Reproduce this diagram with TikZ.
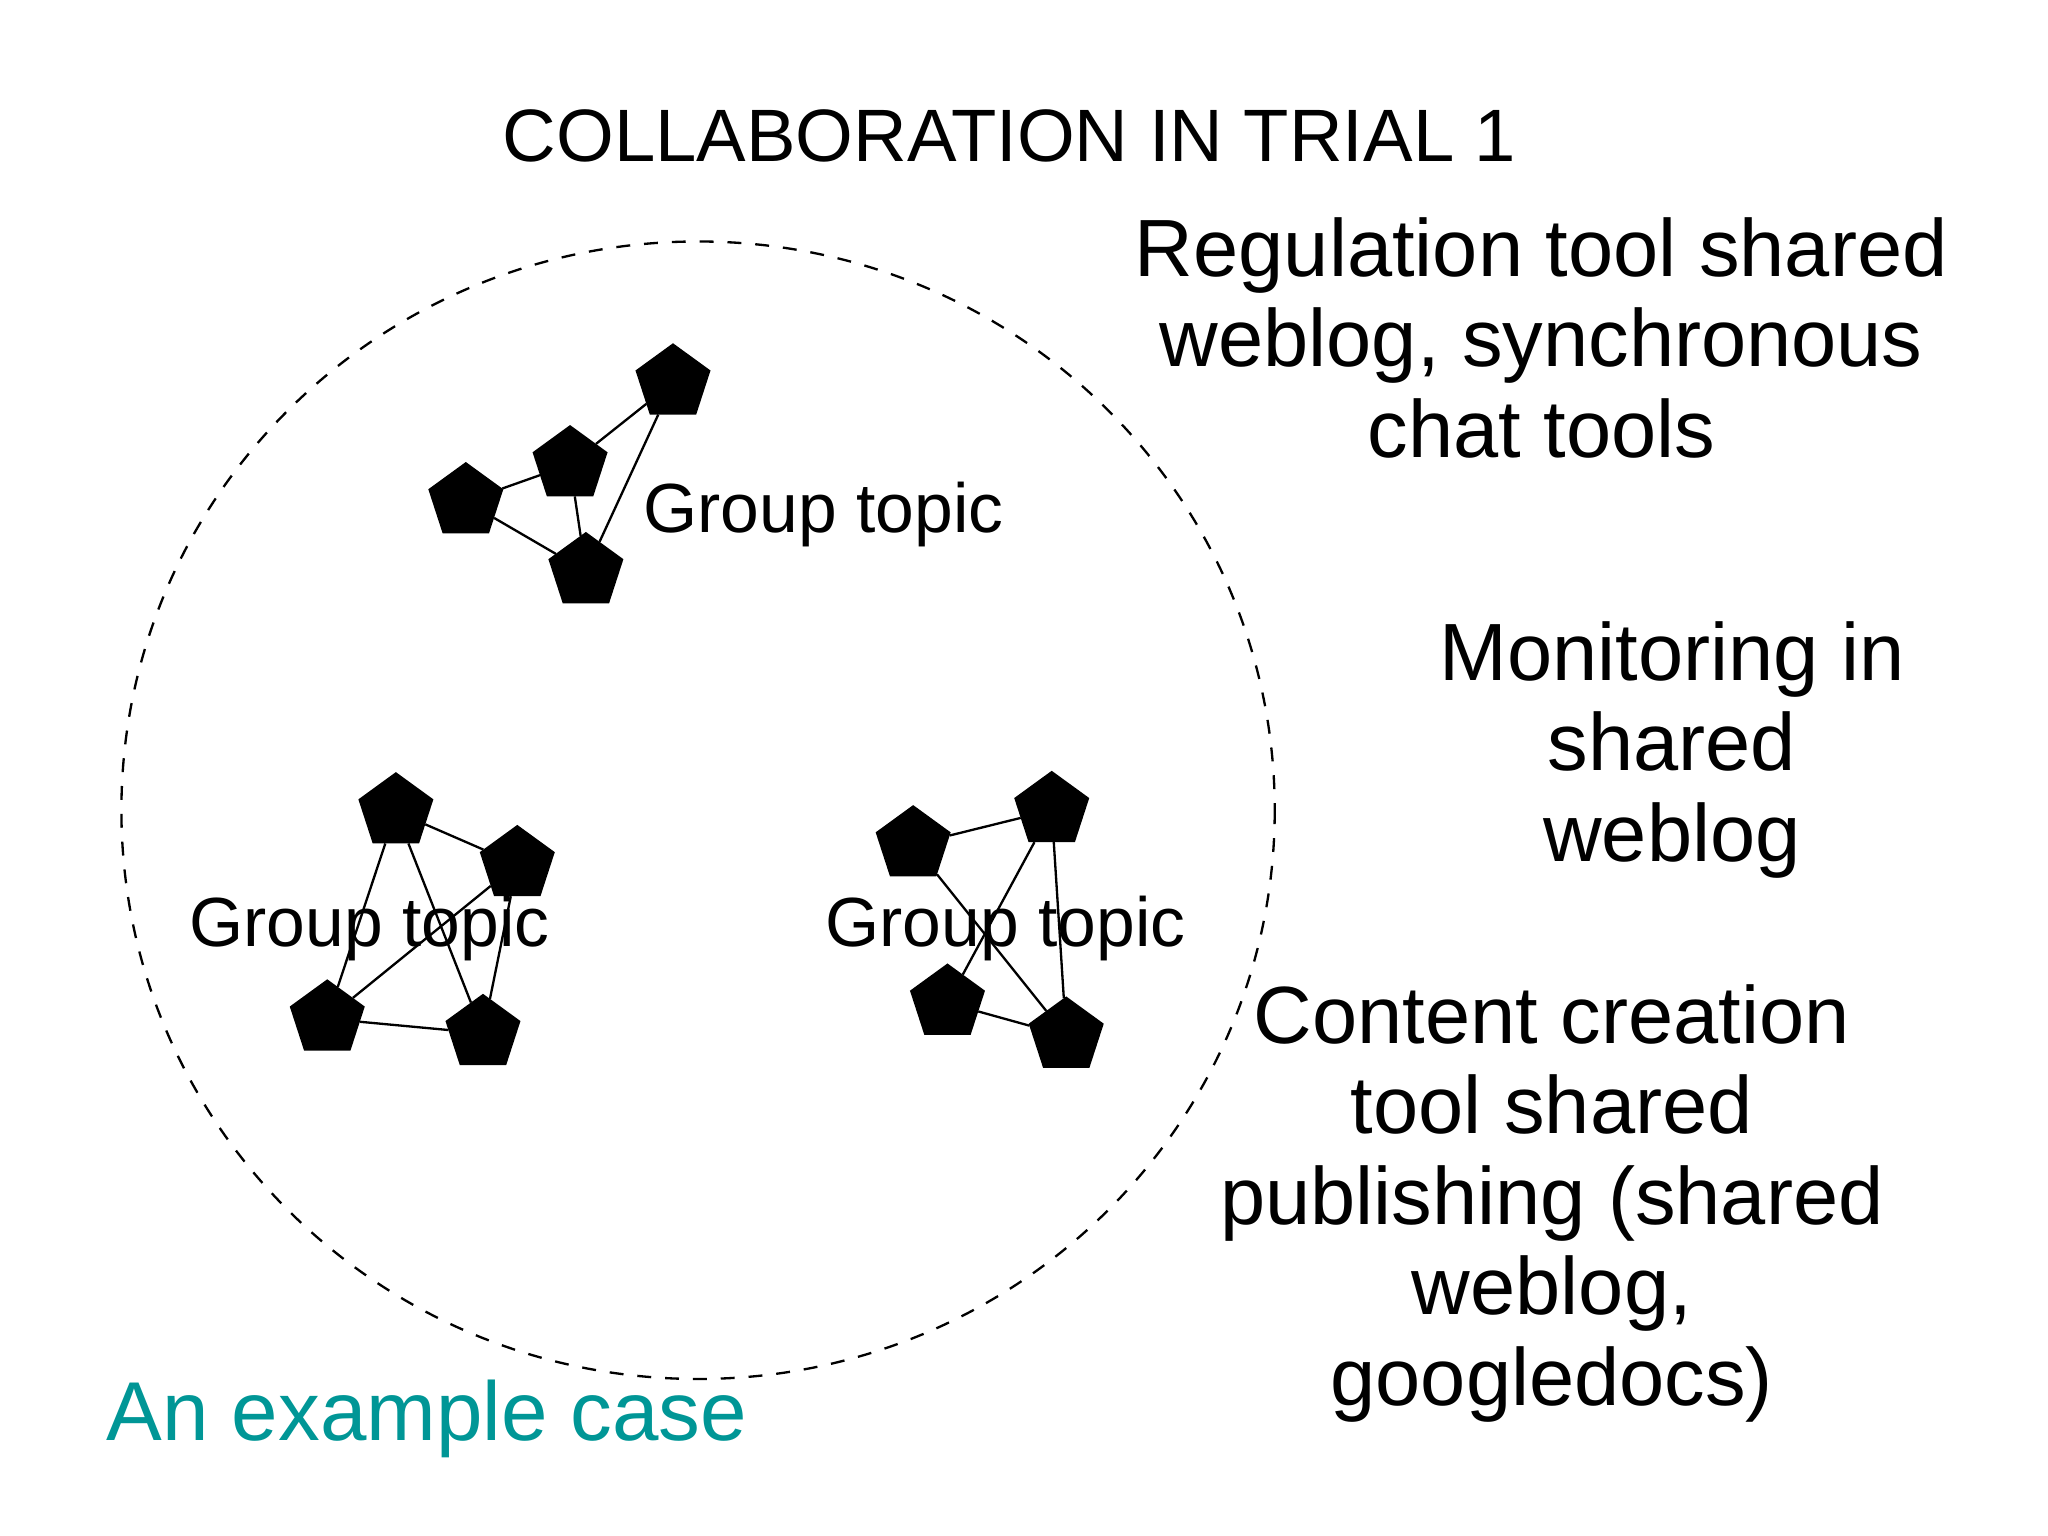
\documentclass[tikz,border=0pt]{standalone}
\usepackage{fontspec}
\setmainfont{Liberation Sans}
\usetikzlibrary{shapes.geometric}
\definecolor{teal1}{RGB}{0,150,150}
\begin{document}
\begin{tikzpicture}[x=0.01cm,y=-0.01cm,
  p/.style={regular polygon,regular polygon sides=5,fill=black,draw=black,minimum size=0.58cm,inner sep=0pt},
  e/.style={draw=black,line width=0.5pt},
  gt/.style={font=\fontsize{15}{18}\selectfont,inner sep=0pt},
  rt/.style={font=\fontsize{17.5}{19.5}\selectfont,align=center,inner sep=0pt}]
\useasboundingbox (0,0) rectangle (1552,1164);
\draw[dashed,line width=0.5pt] (529,614) ellipse [x radius=437,y radius=431];
\node[font=\fontsize{16}{19}\selectfont] (title) at (765,103) {COLLABORATION IN TRIAL 1};
\node[rt] (reg) at (1168,256) {Regulation tool shared\\weblog, synchronous\\chat tools};
\node[rt] (mon) at (1267,568) {Monitoring in\\shared\\weblog};
\node[rt] (con) at (1176,912) {Content creation\\tool shared\\publishing (shared\\weblog,\\googledocs)};
\node[font=\fontsize{18}{20}\selectfont,text=teal1,anchor=west,inner sep=0pt] (ex) at (80,1075) {An example case};
% cluster 1
\node[p] (a1) at (510,290) {}; \node[p] (a2) at (432,352) {};
\node[p] (a3) at (353,380) {}; \node[p] (a4) at (444,433) {};
\draw[e] (a1)--(a2) (a2)--(a3) (a3)--(a4) (a2)--(a4) (a1)--(a4);
\node[gt,anchor=west] (g1) at (487,390) {Group topic};
% cluster 2
\node[p] (b1) at (300,615) {}; \node[p] (b2) at (392,655) {};
\node[p] (b3) at (248,772) {}; \node[p] (b4) at (366,783) {};
\draw[e] (b1)--(b3) (b1)--(b4) (b2)--(b3) (b2)--(b4) (b3)--(b4) (b1)--(b2);
\node[gt] (g2) at (280,704) {Group topic};
% cluster 3
\node[p] (c1) at (692,640) {}; \node[p] (c2) at (797,614) {};
\node[p] (c3) at (718,760) {}; \node[p] (c4) at (808,785) {};
\draw[e] (c1)--(c2) (c2)--(c3) (c2)--(c4) (c1)--(c4) (c3)--(c4);
\node[gt] (g3) at (762,704) {Group topic};
\end{tikzpicture}
\end{document}
